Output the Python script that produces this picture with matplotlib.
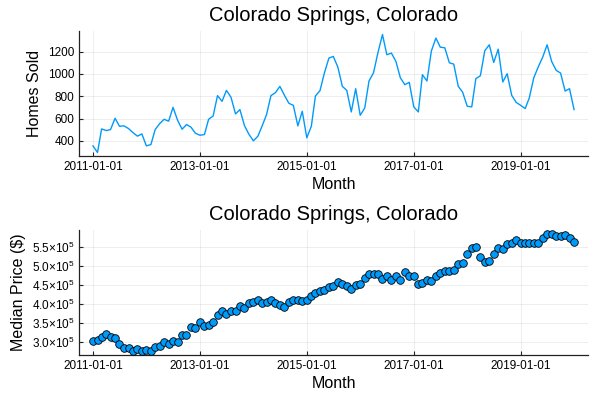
import matplotlib
matplotlib.use("Agg")
import matplotlib.pyplot as plt
import matplotlib.dates as mdates
from matplotlib.ticker import FuncFormatter, FixedLocator
import pandas as pd
import datetime as dt

plt.rcParams['font.family'] = ['Liberation Sans', 'DejaVu Sans']
plt.rcParams['mathtext.fontset'] = 'custom'
plt.rcParams['mathtext.rm'] = 'Liberation Sans'
plt.rcParams['mathtext.default'] = 'regular'

title = "Colorado Springs, Colorado"
months = pd.date_range('2011-01-01', periods=109, freq='MS')

homes_sold = [
    355, 296, 507, 492, 501, 602, 531, 534, 510, 474, 442, 462,
    355, 367, 501, 555, 593, 576, 700, 585, 504, 546, 522, 468,
    450, 457, 593, 623, 805, 754, 852, 790, 641, 680, 537, 460,
    400, 442, 531, 635, 805, 832, 888, 808, 736, 718, 534, 665,
    427, 531, 802, 849, 1007, 1141, 1156, 1061, 888, 852, 659, 867,
    629, 695, 936, 1010, 1189, 1352, 1171, 1186, 1111, 965, 903, 924,
    704, 659, 992, 936, 1204, 1320, 1239, 1233, 1099, 1087, 888, 835,
    710, 704, 957, 983, 1207, 1260, 1102, 1221, 927, 1001, 808, 745,
    718, 689, 784, 965, 1061, 1150, 1260, 1111, 1031, 1007, 846, 867,
    680,
]

median_price = [
    301700, 306000, 313000, 321000, 313000, 310000, 295000, 285000, 284000, 276000, 282000, 276000,
    279000, 275500, 287000, 290000, 299000, 294000, 303000, 300000, 319000, 319000, 338000, 336000,
    351000, 341000, 343000, 352000, 370000, 380000, 374000, 380000, 382000, 394000, 389000, 402000,
    405000, 411000, 403000, 404000, 409000, 403000, 396000, 392000, 404000, 410000, 411000, 407000,
    410000, 420000, 428000, 433000, 437000, 444000, 448000, 458000, 451000, 447000, 440000, 449000,
    451000, 469000, 478000, 479000, 479000, 466000, 472000, 462000, 473000, 464000, 484000, 473500,
    472000, 453000, 455000, 463000, 461000, 473000, 482000, 487000, 487000, 489000, 506000, 508000,
    532000, 546000, 549000, 522000, 511000, 514000, 532000, 546000, 545000, 558000, 561000, 568000,
    561000, 559000, 561000, 561000, 560000, 572000, 585000, 583000, 578000, 579000, 582000, 573000,
    564000,
]

xtick_dates = [dt.date(y, 1, 1) for y in (2011, 2013, 2015, 2017, 2019)]
top_yticks = [400, 600, 800, 1000, 1200]
bot_yticks = [300000, 350000, 400000, 450000, 500000, 550000]

color = '#009AFA'

fig = plt.figure(figsize=(6, 4), dpi=100)
ax1 = fig.add_axes([0.1317, 0.61, 0.98 - 0.1317, 0.9225 - 0.61])
ax2 = fig.add_axes([0.1317, 0.1133, 0.98 - 0.1317, 0.425 - 0.1133])


def style(ax):
    for s in ('top', 'right'):
        ax.spines[s].set_visible(False)
    for s in ('left', 'bottom'):
        ax.spines[s].set_color('#222222')
        ax.spines[s].set_linewidth(0.9)
    ax.grid(True, color='black', alpha=0.08, linewidth=0.6)
    ax.set_axisbelow(True)
    ax.tick_params(direction='in', length=3, width=0.8, labelsize=8.5, color='#222222')
    ax.xaxis.set_major_locator(FixedLocator(mdates.date2num(xtick_dates)))
    ax.xaxis.set_major_formatter(mdates.DateFormatter('%Y-%m-%d'))
    ax.margins(x=0.029, y=0.03)
    ax.set_xlabel('Month', fontsize=11.5, labelpad=3)
    ax.set_title(title, fontsize=14.5, pad=7)


ax1.plot(months, homes_sold, color=color, linewidth=1.0)
style(ax1)
ax1.set_yticks(top_yticks)
ax1.set_ylabel('Homes Sold', fontsize=11.5)

ax2.scatter(months, median_price, s=30, color=color, edgecolors='black', linewidths=0.6, zorder=3)
style(ax2)
ax2.set_yticks(bot_yticks)


def sci(v, pos):
    return r'$%.1f{\times}10^{5}$' % (v / 1e5)


ax2.yaxis.set_major_formatter(FuncFormatter(sci))
ax2.set_ylabel('Median Price ($)', fontsize=11.5)

fig.savefig('out.png', dpi=100)
